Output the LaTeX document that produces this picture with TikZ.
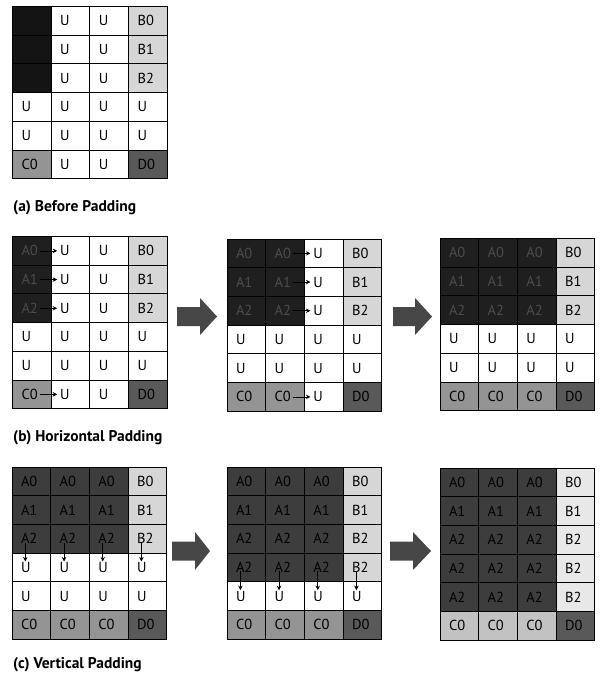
\documentclass[tikz,border=0pt]{standalone}
\usepackage{fontspec}
\newfontfamily\cellfont{PT Sans}
\newfontfamily\labfont{PT Sans}
\usetikzlibrary{arrows.meta}
\def\cw{38.7}
\def\ch{28.7}
\newcommand\gridrow[3]{\foreach \c/\s/\t in {#3}{\node[gcell,\s] (#1-#2-\c) at ({(\c-0.5)*\cw},{(#2-0.5)*\ch}) {\t};}}
\tikzset{
  gcell/.style={draw=black, line width=1pt, minimum height=\ch pt, text width=20.7pt, inner xsep=9pt, inner ysep=0pt, outer sep=0pt, align=left, font=\cellfont\fontsize{14.5}{14.5}\selectfont},
  Aa/.style={fill=black!92, text=black!92},
  Ab/.style={fill=black!88, text=black!70},
  Ac/.style={fill=black!76, text=black},
  Us/.style={fill=white},
  Bs/.style={fill=black!16},
  Bl/.style={fill=black!9},
  Cs/.style={fill=black!42},
  Cl/.style={fill=black!24},
  Ds/.style={fill=black!65},
  parr/.style={draw=black, line width=0.7pt, -{Stealth[length=4.5pt,width=4.5pt]}},
  bigarr/.style={fill=black!72},
  lab/.style={anchor=base west, inner sep=0pt, font=\labfont\bfseries\fontsize{15.5}{16}\selectfont}
}
\begin{document}
\begin{tikzpicture}[x=1pt,y=-1pt]
\useasboundingbox (0,0) rectangle (601,678);
% (a)
\begin{scope}[shift={(12.5,6.5)}]
\gridrow{ga}{1}{1/Aa/{},2/Us/U,3/Us/U,4/Bs/B0}
\gridrow{ga}{2}{1/Aa/{},2/Us/U,3/Us/U,4/Bs/B1}
\gridrow{ga}{3}{1/Aa/{},2/Us/U,3/Us/U,4/Bs/B2}
\gridrow{ga}{4}{1/Us/U,2/Us/U,3/Us/U,4/Us/U}
\gridrow{ga}{5}{1/Us/U,2/Us/U,3/Us/U,4/Us/U}
\gridrow{ga}{6}{1/Cs/C0,2/Us/U,3/Us/U,4/Ds/D0}
\end{scope}
\node[lab] (la) at (13,211) {(a) Before Padding};
% (b) left
\begin{scope}[shift={(12.5,236.5)}]
\gridrow{gb}{1}{1/Ab/A0,2/Us/U,3/Us/U,4/Bs/B0}
\gridrow{gb}{2}{1/Ab/A1,2/Us/U,3/Us/U,4/Bs/B1}
\gridrow{gb}{3}{1/Ab/A2,2/Us/U,3/Us/U,4/Bs/B2}
\gridrow{gb}{4}{1/Us/U,2/Us/U,3/Us/U,4/Us/U}
\gridrow{gb}{5}{1/Us/U,2/Us/U,3/Us/U,4/Us/U}
\gridrow{gb}{6}{1/Cs/C0,2/Us/U,3/Us/U,4/Ds/D0}
\end{scope}
\foreach \r in {1,2,3,6}{\draw[parr] ([xshift=-11pt]gb-\r-1.east) -- ([xshift=6pt]gb-\r-2.west);}
% (b) middle
\begin{scope}[shift={(227,239)}]
\gridrow{gc}{1}{1/Ab/A0,2/Ab/A0,3/Us/U,4/Bs/B0}
\gridrow{gc}{2}{1/Ab/A1,2/Ab/A1,3/Us/U,4/Bs/B1}
\gridrow{gc}{3}{1/Ab/A2,2/Ab/A2,3/Us/U,4/Bs/B2}
\gridrow{gc}{4}{1/Us/U,2/Us/U,3/Us/U,4/Us/U}
\gridrow{gc}{5}{1/Us/U,2/Us/U,3/Us/U,4/Us/U}
\gridrow{gc}{6}{1/Cs/C0,2/Cs/C0,3/Us/U,4/Ds/D0}
\end{scope}
\foreach \r in {1,2,3,6}{\draw[parr] ([xshift=-11pt]gc-\r-2.east) -- ([xshift=6pt]gc-\r-3.west);}
% (b) right
\begin{scope}[shift={(440,238.5)}]
\gridrow{gd}{1}{1/Ab/A0,2/Ab/A0,3/Ab/A0,4/Bs/B0}
\gridrow{gd}{2}{1/Ab/A1,2/Ab/A1,3/Ab/A1,4/Bs/B1}
\gridrow{gd}{3}{1/Ab/A2,2/Ab/A2,3/Ab/A2,4/Bs/B2}
\gridrow{gd}{4}{1/Us/U,2/Us/U,3/Us/U,4/Us/U}
\gridrow{gd}{5}{1/Us/U,2/Us/U,3/Us/U,4/Us/U}
\gridrow{gd}{6}{1/Cs/C0,2/Cs/C0,3/Cs/C0,4/Ds/D0}
\end{scope}
\node[lab] (lb) at (13,441) {(b) Horizontal Padding};
% (c) left
\begin{scope}[shift={(12,467)}]
\gridrow{ge}{1}{1/Ac/A0,2/Ac/A0,3/Ac/A0,4/Bs/B0}
\gridrow{ge}{2}{1/Ac/A1,2/Ac/A1,3/Ac/A1,4/Bs/B1}
\gridrow{ge}{3}{1/Ac/A2,2/Ac/A2,3/Ac/A2,4/Bs/B2}
\gridrow{ge}{4}{1/Us/U,2/Us/U,3/Us/U,4/Us/U}
\gridrow{ge}{5}{1/Us/U,2/Us/U,3/Us/U,4/Us/U}
\gridrow{ge}{6}{1/Cs/C0,2/Cs/C0,3/Cs/C0,4/Ds/D0}
\end{scope}
\foreach \c in {1,2,3,4}{\draw[parr] ([xshift=-6pt,yshift=-4pt]ge-3-\c.center) -- ([xshift=-6pt,yshift=6pt]ge-4-\c.center);}
% (c) middle
\begin{scope}[shift={(227,467)}]
\gridrow{gf}{1}{1/Ac/A0,2/Ac/A0,3/Ac/A0,4/Bs/B0}
\gridrow{gf}{2}{1/Ac/A1,2/Ac/A1,3/Ac/A1,4/Bs/B1}
\gridrow{gf}{3}{1/Ac/A2,2/Ac/A2,3/Ac/A2,4/Bs/B2}
\gridrow{gf}{4}{1/Ac/A2,2/Ac/A2,3/Ac/A2,4/Bs/B2}
\gridrow{gf}{5}{1/Us/U,2/Us/U,3/Us/U,4/Us/U}
\gridrow{gf}{6}{1/Cs/C0,2/Cs/C0,3/Cs/C0,4/Ds/D0}
\end{scope}
\foreach \c in {1,2,3,4}{\draw[parr] ([xshift=-6pt,yshift=-4pt]gf-4-\c.center) -- ([xshift=-6pt,yshift=6pt]gf-5-\c.center);}
% (c) right
\begin{scope}[shift={(440,468)}]
\gridrow{gg}{1}{1/Ac/A0,2/Ac/A0,3/Ac/A0,4/Bl/B0}
\gridrow{gg}{2}{1/Ac/A1,2/Ac/A1,3/Ac/A1,4/Bl/B1}
\gridrow{gg}{3}{1/Ac/A2,2/Ac/A2,3/Ac/A2,4/Bl/B2}
\gridrow{gg}{4}{1/Ac/A2,2/Ac/A2,3/Ac/A2,4/Bl/B2}
\gridrow{gg}{5}{1/Ac/A2,2/Ac/A2,3/Ac/A2,4/Bl/B2}
\gridrow{gg}{6}{1/Cl/C0,2/Cl/C0,3/Cl/C0,4/Ds/D0}
\end{scope}
\node[lab] (lc) at (13,668) {(c) Vertical Padding};
% block arrows
\fill[bigarr] (177,307) -- (200,307) -- (200,298) -- (217,316.5) -- (200,335) -- (200,326) -- (177,326) -- cycle;
\fill[bigarr] (393,307) -- (415,307) -- (415,298) -- (432,316.5) -- (415,335) -- (415,326) -- (393,326) -- cycle;
\fill[bigarr] (172,541.5) -- (195,541.5) -- (195,532) -- (210,551) -- (195,570) -- (195,560.5) -- (172,560.5) -- cycle;
\fill[bigarr] (390,541.5) -- (413,541.5) -- (413,532) -- (431,551) -- (413,570) -- (413,560.5) -- (390,560.5) -- cycle;
\end{tikzpicture}
\end{document}
